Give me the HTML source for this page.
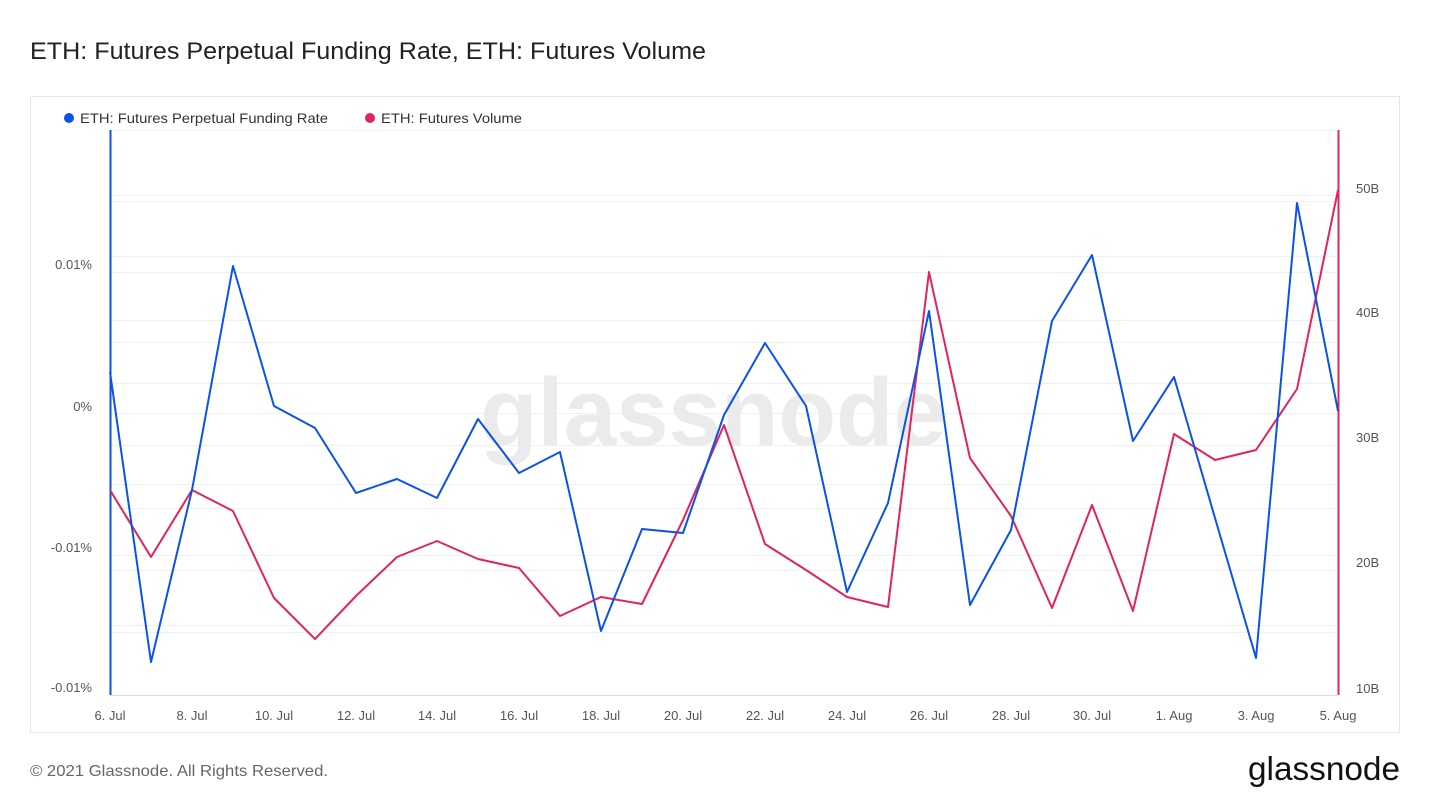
<!DOCTYPE html>
<html><head><style>
body{margin:0;background:#fff;font-family:"Liberation Sans",sans-serif;}
</style></head><body>
<svg width="1430" height="805" xmlns="http://www.w3.org/2000/svg" font-family="Liberation Sans, sans-serif">
<text x="30" y="59" font-size="24" fill="#222" textLength="676" lengthAdjust="spacingAndGlyphs">ETH: Futures Perpetual Funding Rate, ETH: Futures Volume</text>
<rect x="30.5" y="96.5" width="1369" height="636" fill="#fff" stroke="#e6e6e6"/>
<circle cx="69" cy="118" r="5" fill="#0a52e8"/>
<text x="80" y="123" font-size="14" fill="#333" textLength="248" lengthAdjust="spacingAndGlyphs">ETH: Futures Perpetual Funding Rate</text>
<circle cx="370" cy="118" r="5" fill="#e0245e"/>
<text x="381" y="123" font-size="14" fill="#333" textLength="141" lengthAdjust="spacingAndGlyphs">ETH: Futures Volume</text>
<g stroke="#f0f0f0" stroke-width="1">
<line x1="110" x2="1338" y1="130.5" y2="130.5"/>
<line x1="110" x2="1338" y1="195.5" y2="195.5"/>
<line x1="110" x2="1338" y1="201.5" y2="201.5"/>
<line x1="110" x2="1338" y1="256.5" y2="256.5"/>
<line x1="110" x2="1338" y1="272.5" y2="272.5"/>
<line x1="110" x2="1338" y1="320.5" y2="320.5"/>
<line x1="110" x2="1338" y1="342.5" y2="342.5"/>
<line x1="110" x2="1338" y1="383.5" y2="383.5"/>
<line x1="110" x2="1338" y1="413.5" y2="413.5"/>
<line x1="110" x2="1338" y1="445.5" y2="445.5"/>
<line x1="110" x2="1338" y1="484.5" y2="484.5"/>
<line x1="110" x2="1338" y1="508.5" y2="508.5"/>
<line x1="110" x2="1338" y1="555.5" y2="555.5"/>
<line x1="110" x2="1338" y1="570.5" y2="570.5"/>
<line x1="110" x2="1338" y1="625.5" y2="625.5"/>
<line x1="110" x2="1338" y1="632.5" y2="632.5"/>
</g>
<line x1="110" x2="1338" y1="695.5" y2="695.5" stroke="#ddd"/>
<text x="713" y="445" font-size="96" fill="#ebebeb" text-anchor="middle" font-weight="bold" textLength="466" lengthAdjust="spacingAndGlyphs">glassnode</text>
<g font-size="13" fill="#555" text-anchor="end">
<text x="92" y="269">0.01%</text><text x="92" y="411">0%</text><text x="92" y="552">-0.01%</text><text x="92" y="692">-0.01%</text>
</g>
<g font-size="13" fill="#555">
<text x="1356" y="193">50B</text><text x="1356" y="317">40B</text><text x="1356" y="442">30B</text><text x="1356" y="567">20B</text><text x="1356" y="693">10B</text>
</g>
<g font-size="13" fill="#555" text-anchor="middle">
<text x="110" y="720">6. Jul</text><text x="192" y="720">8. Jul</text><text x="274" y="720">10. Jul</text><text x="356" y="720">12. Jul</text><text x="437" y="720">14. Jul</text><text x="519" y="720">16. Jul</text><text x="601" y="720">18. Jul</text><text x="683" y="720">20. Jul</text><text x="765" y="720">22. Jul</text><text x="847" y="720">24. Jul</text><text x="929" y="720">26. Jul</text><text x="1011" y="720">28. Jul</text><text x="1092" y="720">30. Jul</text><text x="1174" y="720">1. Aug</text><text x="1256" y="720">3. Aug</text><text x="1338" y="720">5. Aug</text>
</g>
<line x1="110.5" x2="110.5" y1="130" y2="695" stroke="#0a52e8" stroke-width="2"/>
<line x1="1338.5" x2="1338.5" y1="130" y2="695" stroke="#e0245e" stroke-width="2"/>
<polyline fill="none" stroke="#e0245e" stroke-width="2" stroke-linejoin="round" points="110,490 151,557 192,490 233,511 274,598 315,639 356,596 397,557 437,541 478,559 519,568 560,616 601,597 642,604 683,520 724,425 765,544 806,570 847,597 888,607 929,272 970,458 1011,516 1052,608 1092,505 1133,611 1174,434 1215,460 1256,450 1297,389 1338,190"/>
<polyline fill="none" stroke="#0a52e8" stroke-width="2" stroke-linejoin="round" points="110,372 151,662 192,490 233,266 274,406 315,428 356,493 397,479 437,498 478,419 519,473 560,452 601,631 642,529 683,533 724,415 765,343 806,406 847,592 888,503 929,311 970,605 1011,530 1052,321 1092,255 1133,441 1174,377 1215,518 1256,658 1297,203 1338,411"/>
<text x="30" y="776" font-size="16" fill="#666" textLength="298" lengthAdjust="spacingAndGlyphs">© 2021 Glassnode. All Rights Reserved.</text>
<text x="1400" y="780" font-size="33" fill="#111" text-anchor="end" textLength="152" lengthAdjust="spacingAndGlyphs">glassnode</text>
</svg>
</body></html>
